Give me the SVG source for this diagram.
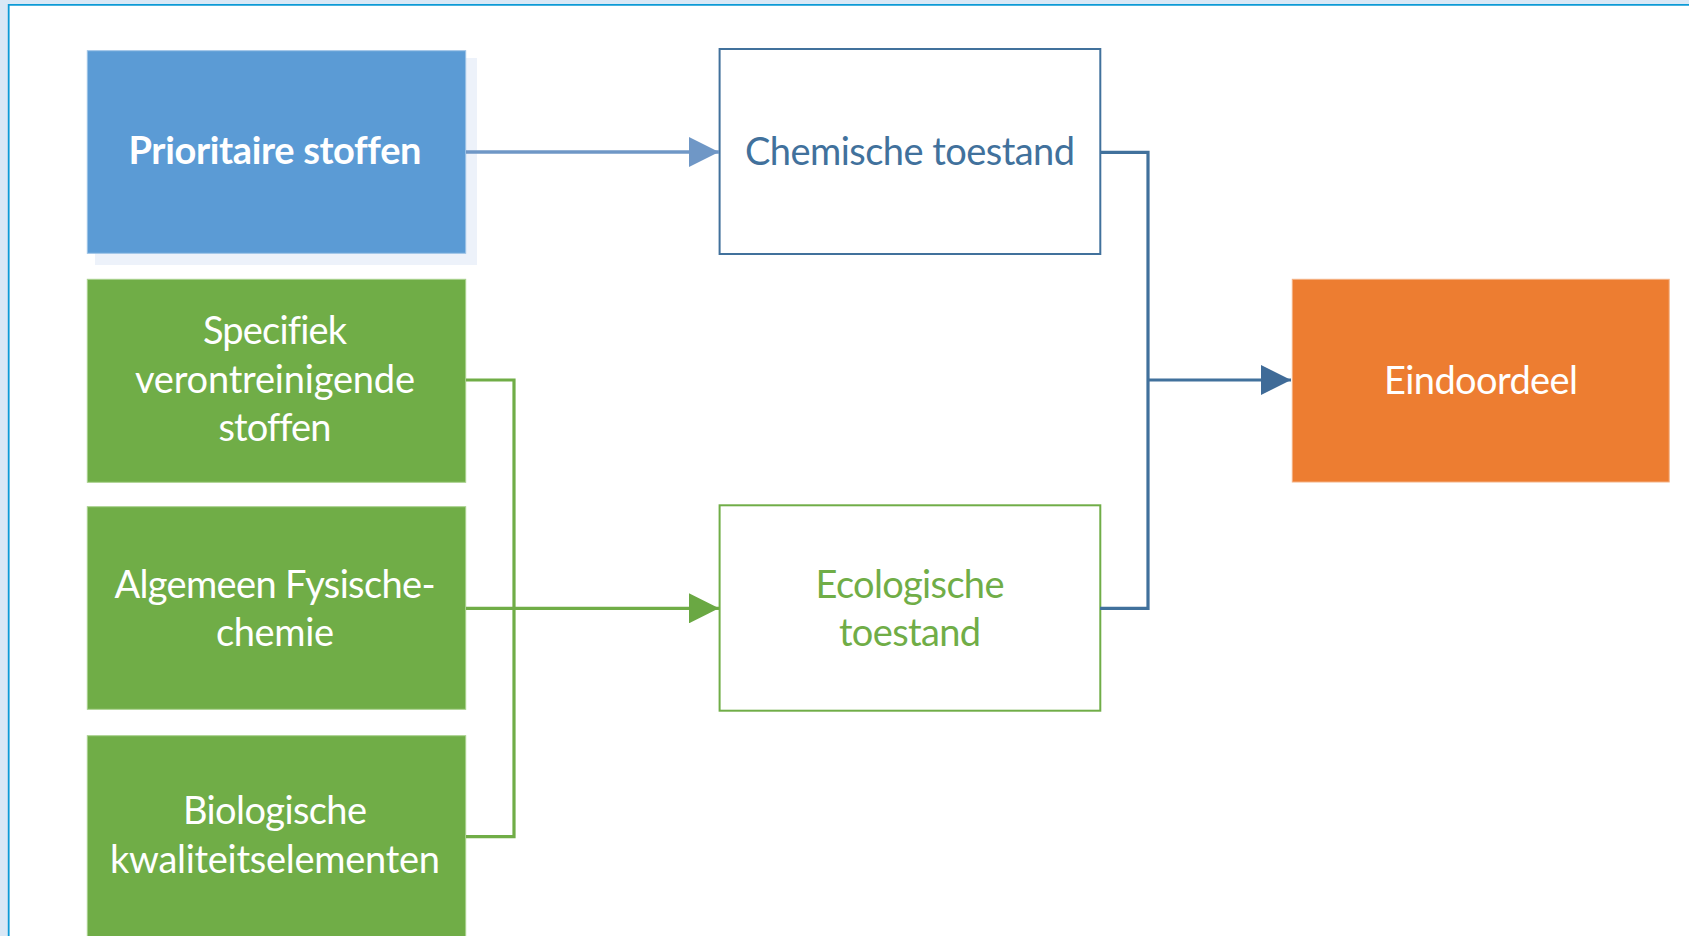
<svg xmlns="http://www.w3.org/2000/svg" width="1689" height="936" viewBox="0 0 1689 936">
  <style>
    .lbl { font-family: Lato, "Open Sans", "Liberation Sans", sans-serif; font-size: 38px; text-anchor: middle; font-variant-ligatures: none; font-feature-settings: "liga" 0; }
    .white { fill: #ffffff; }
    .gfill { fill: #70ad47; stroke: #a9d18e; stroke-width: 1; }
    .bline { fill: none; stroke: #41719c; stroke-width: 3.2; }
    .gline { fill: none; stroke: #70ad47; stroke-width: 3.2; }
  </style>
  <defs>
    <marker id="arrLight" markerWidth="30" markerHeight="30" refX="30" refY="15" orient="auto" markerUnits="userSpaceOnUse">
      <path d="M0,0 L30,15 L0,30 Z" fill="#6f97c6"/>
    </marker>
    <marker id="arrDark" markerWidth="30" markerHeight="30" refX="30" refY="15" orient="auto" markerUnits="userSpaceOnUse">
      <path d="M0,0 L30,15 L0,30 Z" fill="#3f6b98"/>
    </marker>
    <marker id="arrGreen" markerWidth="30" markerHeight="30" refX="30" refY="15" orient="auto" markerUnits="userSpaceOnUse">
      <path d="M0,0 L30,15 L0,30 Z" fill="#6aa843"/>
    </marker>
  </defs>

  <!-- frame -->
  <rect x="0" y="0" width="1689" height="936" fill="#d9e8f6"/>
  <rect x="9" y="5" width="1680" height="931" fill="#ffffff"/>
  <line x1="8.7" y1="4" x2="8.7" y2="936" stroke="#0c9ad6" stroke-width="1.8"/>
  <line x1="8" y1="4.8" x2="1689" y2="4.8" stroke="#0c9ad6" stroke-width="1.8"/>

  <g id="node-prioritaire">
    <rect x="95" y="58" width="382" height="207" fill="#edf2fa"/>
    <rect x="87.3" y="50.7" width="378.4" height="202.6" fill="#5b9bd5" stroke="#9dc3e6" stroke-width="1"/>
    <text class="lbl white" x="275" y="164" font-weight="bold" textLength="293" lengthAdjust="spacing">Prioritaire stoffen</text>
  </g>

  <g id="node-chemische">
    <rect x="719.6" y="49" width="380.7" height="205" fill="#ffffff" stroke="#41719c" stroke-width="2"/>
    <text class="lbl" x="910" y="165" fill="#41719c" textLength="330" lengthAdjust="spacing">Chemische toestand</text>
  </g>

  <g id="node-specifiek">
    <rect class="gfill" x="87.3" y="279.3" width="378.4" height="203"/>
    <text class="lbl white" x="275" y="343.5" textLength="144" lengthAdjust="spacing">Specifiek</text>
    <text class="lbl white" x="275" y="392.5" textLength="280" lengthAdjust="spacing">verontreinigende</text>
    <text class="lbl white" x="275" y="441" textLength="113" lengthAdjust="spacing">stoffen</text>
  </g>

  <g id="node-algemeen">
    <rect class="gfill" x="87.3" y="506.7" width="378.4" height="202.6"/>
    <text class="lbl white" x="275" y="598" textLength="321" lengthAdjust="spacing">Algemeen Fysische-</text>
    <text class="lbl white" x="275" y="646" textLength="118" lengthAdjust="spacing">chemie</text>
  </g>

  <g id="node-biologische">
    <rect class="gfill" x="87.3" y="735.7" width="378.4" height="210"/>
    <text class="lbl white" x="275" y="824" textLength="184" lengthAdjust="spacing">Biologische</text>
    <text class="lbl white" x="275" y="873" textLength="330" lengthAdjust="spacing">kwaliteitselementen</text>
  </g>

  <g id="node-ecologische">
    <rect x="719.6" y="505.3" width="380.7" height="205.4" fill="#ffffff" stroke="#70ad47" stroke-width="2"/>
    <text class="lbl" x="910" y="598" fill="#70ad47" textLength="189" lengthAdjust="spacing">Ecologische</text>
    <text class="lbl" x="910" y="646" fill="#70ad47" textLength="142" lengthAdjust="spacing">toestand</text>
  </g>

  <g id="node-eindoordeel">
    <rect x="1292.3" y="279.3" width="376.9" height="202.7" fill="#ed7d31" stroke="#f4b183" stroke-width="1"/>
    <text class="lbl white" x="1481" y="394" textLength="194" lengthAdjust="spacing">Eindoordeel</text>
  </g>

  <g id="connectors">
    <line x1="466" y1="152" x2="719" y2="152" stroke="#6f97c6" stroke-width="3.6" marker-end="url(#arrLight)"/>
    <polyline class="bline" points="1100,152.3 1148,152.3 1148,608.3 1100,608.3"/>
    <line class="bline" x1="1148" y1="380" x2="1291" y2="380" marker-end="url(#arrDark)" stroke="#3f6b98"/>
    <polyline class="gline" points="466,380 514,380 514,836.7 466,836.7"/>
    <line class="gline" x1="466" y1="608.3" x2="719" y2="608.3" stroke="#6aa843" marker-end="url(#arrGreen)"/>
  </g>
</svg>
